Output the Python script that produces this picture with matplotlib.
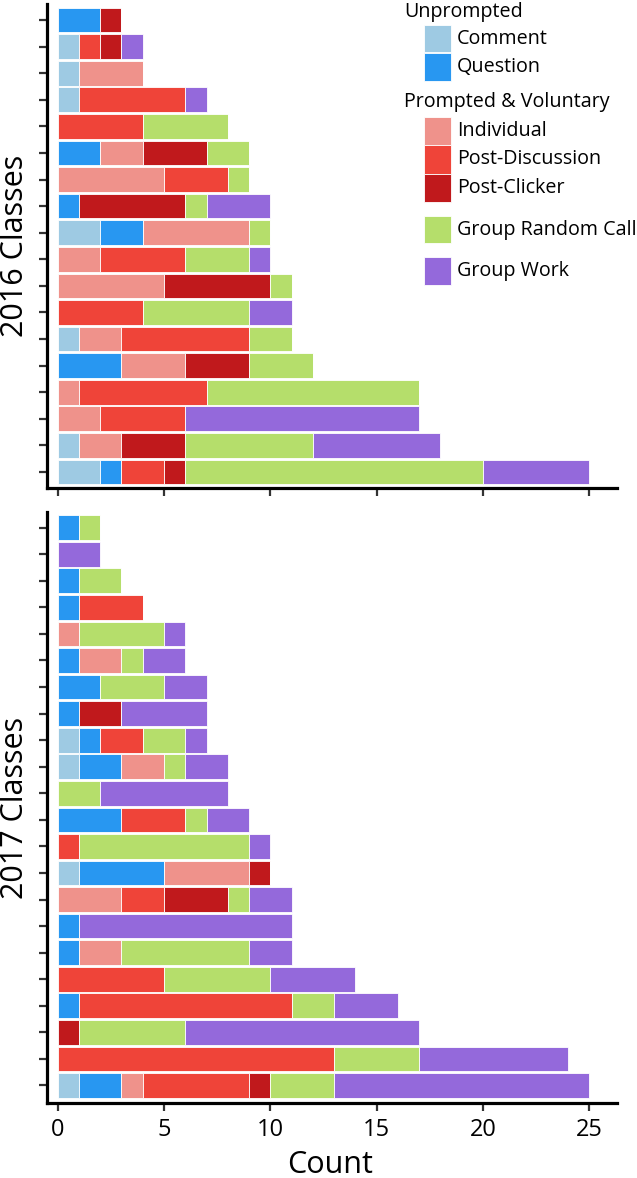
import matplotlib
matplotlib.use("Agg")
import matplotlib.pyplot as plt
from matplotlib.patches import Rectangle
import numpy as np

plt.rcParams['font.family'] = ['Open Sans', 'DejaVu Sans']

categories = ["Comment", "Question", "Individual", "Post-Discussion",
              "Post-Clicker", "Group Random Call", "Group Work"]
colors = ["#9ecae3", "#2897f1", "#ef928b", "#ef4439", "#c0191c", "#b5de6b", "#9469db"]

# 2016 classes (top to bottom), columns follow `categories`
comment_2016 =      [0, 1, 1, 1, 0, 0, 0, 0, 2, 0, 0, 0, 1, 0, 0, 0, 1, 2]
question_2016 =     [2, 0, 0, 0, 0, 2, 0, 1, 2, 0, 0, 0, 0, 3, 0, 0, 0, 1]
individual_2016 =   [0, 0, 3, 0, 0, 2, 5, 0, 5, 2, 5, 0, 2, 3, 1, 2, 2, 0]
postdisc_2016 =     [0, 1, 0, 5, 4, 0, 3, 0, 0, 4, 0, 4, 6, 0, 6, 4, 0, 2]
postclicker_2016 =  [1, 1, 0, 0, 0, 3, 0, 5, 0, 0, 5, 0, 0, 3, 0, 0, 3, 1]
grc_2016 =          [0, 0, 0, 0, 4, 2, 1, 1, 1, 3, 1, 5, 2, 3, 10, 0, 6, 14]
groupwork_2016 =    [0, 1, 0, 1, 0, 0, 0, 3, 0, 1, 0, 2, 0, 0, 0, 11, 6, 5]

# 2017 classes (top to bottom)
comment_2017 =      [0, 0, 0, 0, 0, 0, 0, 0, 1, 1, 0, 0, 0, 1, 0, 0, 0, 0, 0, 0, 0, 1]
question_2017 =     [1, 0, 1, 1, 0, 1, 2, 1, 1, 2, 0, 3, 0, 4, 0, 1, 1, 0, 1, 0, 0, 2]
individual_2017 =   [0, 0, 0, 0, 1, 2, 0, 0, 0, 2, 0, 0, 0, 4, 3, 0, 2, 0, 0, 0, 0, 1]
postdisc_2017 =     [0, 0, 0, 3, 0, 0, 0, 0, 2, 0, 0, 3, 1, 0, 2, 0, 0, 5, 10, 0, 13, 5]
postclicker_2017 =  [0, 0, 0, 0, 0, 0, 0, 2, 0, 0, 0, 0, 0, 1, 3, 0, 0, 0, 0, 1, 0, 1]
grc_2017 =          [1, 0, 2, 0, 4, 1, 3, 0, 2, 1, 2, 1, 8, 0, 1, 0, 6, 5, 2, 5, 4, 3]
groupwork_2017 =    [0, 2, 0, 0, 1, 2, 2, 4, 1, 2, 6, 2, 1, 0, 2, 10, 2, 4, 3, 11, 7, 12]

data_2016 = [comment_2016, question_2016, individual_2016, postdisc_2016,
             postclicker_2016, grc_2016, groupwork_2016]
data_2017 = [comment_2017, question_2017, individual_2017, postdisc_2017,
             postclicker_2017, grc_2017, groupwork_2017]

xticks = [0, 5, 10, 15, 20, 25]

fig = plt.figure(figsize=(6.37, 11.78), dpi=100)
W, H = 637, 1178
ax1 = fig.add_axes([47 / W, 1 - 488 / H, 570 / W, (488 - 4) / H])
ax2 = fig.add_axes([47 / W, 1 - 1103 / H, 570 / W, (1103 - 512) / H])


def draw(ax, data, ylim):
    n = len(data[0])
    y = np.arange(n)
    left = np.zeros(n)
    for vals, col in zip(data, colors):
        v = np.array(vals, dtype=float)
        ax.barh(y, v, left=left, height=0.93, color=col,
                edgecolor="white", linewidth=0.6)
        left += v
    ax.set_ylim(*ylim)
    ax.set_xlim(-0.5, 26.3)
    ax.set_yticks(y)
    ax.set_yticklabels([])
    ax.set_xticks(xticks)
    for s in ["top", "right"]:
        ax.spines[s].set_visible(False)
    for s in ["left", "bottom"]:
        ax.spines[s].set_linewidth(2.3)
        ax.spines[s].set_color("black")
    ax.tick_params(axis="both", length=6, width=1.6, color="#333333",
                   labelsize=17, pad=5)


draw(ax1, data_2016, (17.6, -0.6))
draw(ax2, data_2017, (21.66, -0.59))
ax1.set_xticklabels([])
ax2.set_xticklabels([str(t) for t in xticks])
ax2.set_xlabel("Count", fontsize=22)
ax2.xaxis.label.set_va("baseline")
ax2.xaxis.set_label_coords(0.4965, -0.119)
for ax, lab in [(ax1, "2016 Classes"), (ax2, "2017 Classes")]:
    ax.set_ylabel(lab, fontsize=22)
    ax.yaxis.label.set_va("center")
    ax.yaxis.set_label_coords(-0.056, 0.5)

# Legend (built manually in figure pixel coordinates)
def fx(px):
    return px / W


def fy(py):
    return 1 - py / H


fs_leg = 14.2
fig.text(fx(404), fy(12), "Unprompted", fontsize=fs_leg, va="center", ha="left")
fig.text(fx(404), fy(102), "Prompted & Voluntary", fontsize=fs_leg, va="center", ha="left")
legend_rows = [(0, 25, 52), (1, 53, 81), (2, 117, 145), (3, 145, 174),
               (4, 174, 202), (5, 216, 243), (6, 257, 285)]
for idx, top, bot in legend_rows:
    fig.patches.append(Rectangle((fx(424), fy(bot)), fx(451) - fx(424), fy(top) - fy(bot),
                                 transform=fig.transFigure, facecolor=colors[idx],
                                 edgecolor="white", linewidth=0.6))
    fig.text(fx(457), fy((top + bot) / 2), categories[idx], fontsize=fs_leg,
             va="center", ha="left")

fig.savefig("out.png", dpi=100)
